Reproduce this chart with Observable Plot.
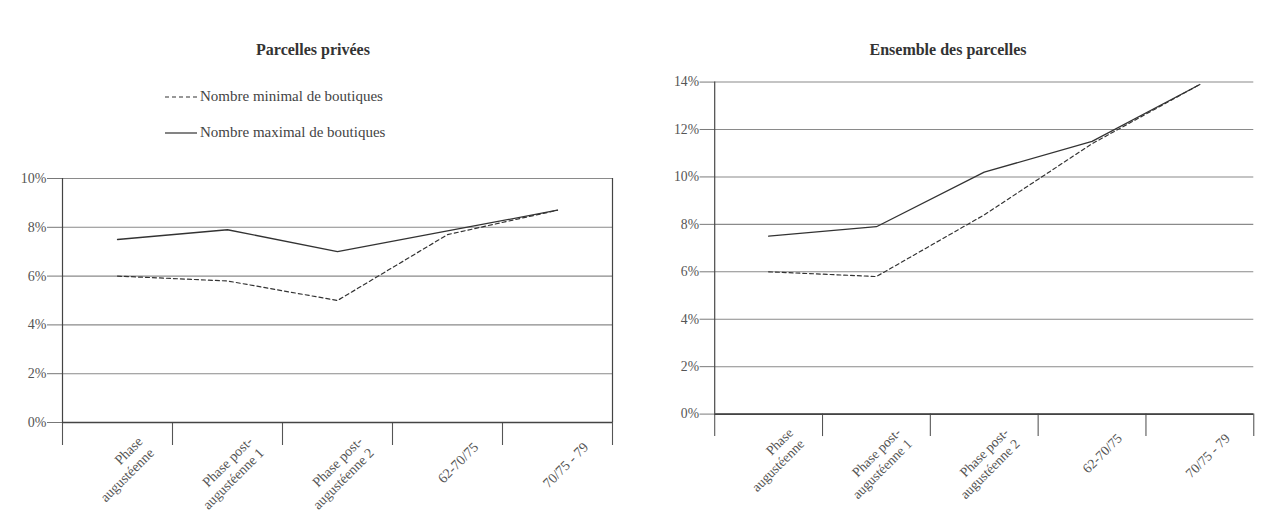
<!DOCTYPE html>
<html>
<head>
<meta charset="utf-8">
<script src="https://cdn.jsdelivr.net/npm/d3@7"></script>
<script src="https://cdn.jsdelivr.net/npm/@observablehq/plot@0.6"></script>
<style>
  html, body { margin: 0; padding: 0; background: #fff; }
  body { width: 1265px; height: 528px; overflow: hidden; position: relative;
         font-family: "Liberation Serif", "DejaVu Serif", serif; color: #444; }
  .title { position: absolute; font-weight: bold; font-size: 16px; color: #333; transform: translateX(-50%); white-space: nowrap; }
  .legend { position: absolute; font-size: 15px; color: #444; white-space: nowrap; display: flex; align-items: center; }
  .legend svg { margin-right: 3px; }
  .chart { position: absolute; }
</style>
</head>
<body>
<div class="title" style="left:313px; top:41px;">Parcelles privées</div>
<div class="title" style="left:948px; top:41px;">Ensemble des parcelles</div>
<div class="legend" style="left:165px; top:88px;">
  <svg width="32" height="4"><line x1="0" y1="2" x2="32" y2="2" stroke="#333" stroke-width="1.2" stroke-dasharray="4,3"/></svg>Nombre minimal de boutiques
</div>
<div class="legend" style="left:165px; top:124px;">
  <svg width="32" height="4"><line x1="0" y1="2" x2="32" y2="2" stroke="#333" stroke-width="1.2"/></svg>Nombre maximal de boutiques
</div>
<div id="left" class="chart" style="left:0px; top:160px;"></div>
<div id="right" class="chart" style="left:640px; top:64px;"></div>
<script>
// ---- Data ----
const categories = ["Phase\naugustéenne", "Phase post-\naugustéenne 1", "Phase post-\naugustéenne 2", "62-70/75", "70/75 - 79"];
const seriesNames = ["Nombre minimal de boutiques", "Nombre maximal de boutiques"];
// Parcelles privées (%)
const priveesMin = [6.0, 5.8, 5.0, 7.7, 8.7];
const priveesMax = [7.5, 7.9, 7.0, 7.85, 8.7];
// Ensemble des parcelles (%)
const ensembleMin = [6.0, 5.8, 8.4, 11.4, 13.9];
const ensembleMax = [7.5, 7.9, 10.2, 11.5, 13.9];
// Y tick labels
const yTicksPrivees = [0, 2, 4, 6, 8, 10];
const yTicksEnsemble = [0, 2, 4, 6, 8, 10, 12, 14];

function rows(minArr, maxArr) {
  const out = [];
  categories.forEach((c, i) => {
    out.push({pos: i + 0.5, cat: c, value: minArr[i], series: seriesNames[0]});
    out.push({pos: i + 0.5, cat: c, value: maxArr[i], series: seriesNames[1]});
  });
  return out;
}

const boundaries = d3.range(categories.length + 1);
const centers = categories.map((c, i) => i + 0.5);
const FONT = "Liberation Serif, DejaVu Serif, serif";

function chart({data, yTicks, height, marginLeft, marginRight, width, frameRight}) {
  const yMax = yTicks[yTicks.length - 1];
  const minRows = data.filter(d => d.series === seriesNames[0]);
  const maxRows = data.filter(d => d.series === seriesNames[1]);
  return Plot.plot({
    width, height,
    marginTop: 18, marginBottom: 106, marginLeft, marginRight,
    style: {fontFamily: FONT, fontSize: "14px", color: "#555", background: "transparent"},
    x: {domain: [0, categories.length], axis: null},
    y: {domain: [0, yMax], axis: null},
    marks: [
      Plot.ruleY(yTicks, {stroke: "#8a8a8a", strokeWidth: 1.1}),
      Plot.axisY({ticks: yTicks, tickFormat: d => d + "%", tickSize: 15, tickPadding: 1, label: null,
                  stroke: "#777", fill: "#555", fontSize: 14}),
      Plot.axisX({ticks: boundaries, tickSize: 23, tickFormat: () => "", label: null, stroke: "#555", strokeWidth: 1.1}),
      Plot.axisX({ticks: centers, tickSize: 0, tickPadding: 8, tickRotate: -45, label: null,
                  tickFormat: (d) => categories[Math.floor(d)], dx: 28, dy: 14, fill: "#555", fontSize: 14,
                  lineHeight: 1.15}),
      Plot.ruleX(frameRight ? [0, categories.length] : [0], {stroke: "#444", strokeWidth: 1.2}),
      Plot.ruleY([0], {stroke: "#444", strokeWidth: 1.6}),
      Plot.lineY(minRows, {x: "pos", y: "value", stroke: "#333", strokeWidth: 1.2, strokeDasharray: "4,3"}),
      Plot.lineY(maxRows, {x: "pos", y: "value", stroke: "#333", strokeWidth: 1.3})
    ]
  });
}

document.getElementById("left").appendChild(chart({
  data: rows(priveesMin, priveesMax), yTicks: yTicksPrivees,
  width: 640, height: 368, marginLeft: 62, marginRight: 28, frameRight: true
}));
document.getElementById("right").appendChild(chart({
  data: rows(ensembleMin, ensembleMax), yTicks: yTicksEnsemble,
  width: 640, height: 464, marginLeft: 76, marginRight: 12, frameRight: false
}));
</script>
</body>
</html>
